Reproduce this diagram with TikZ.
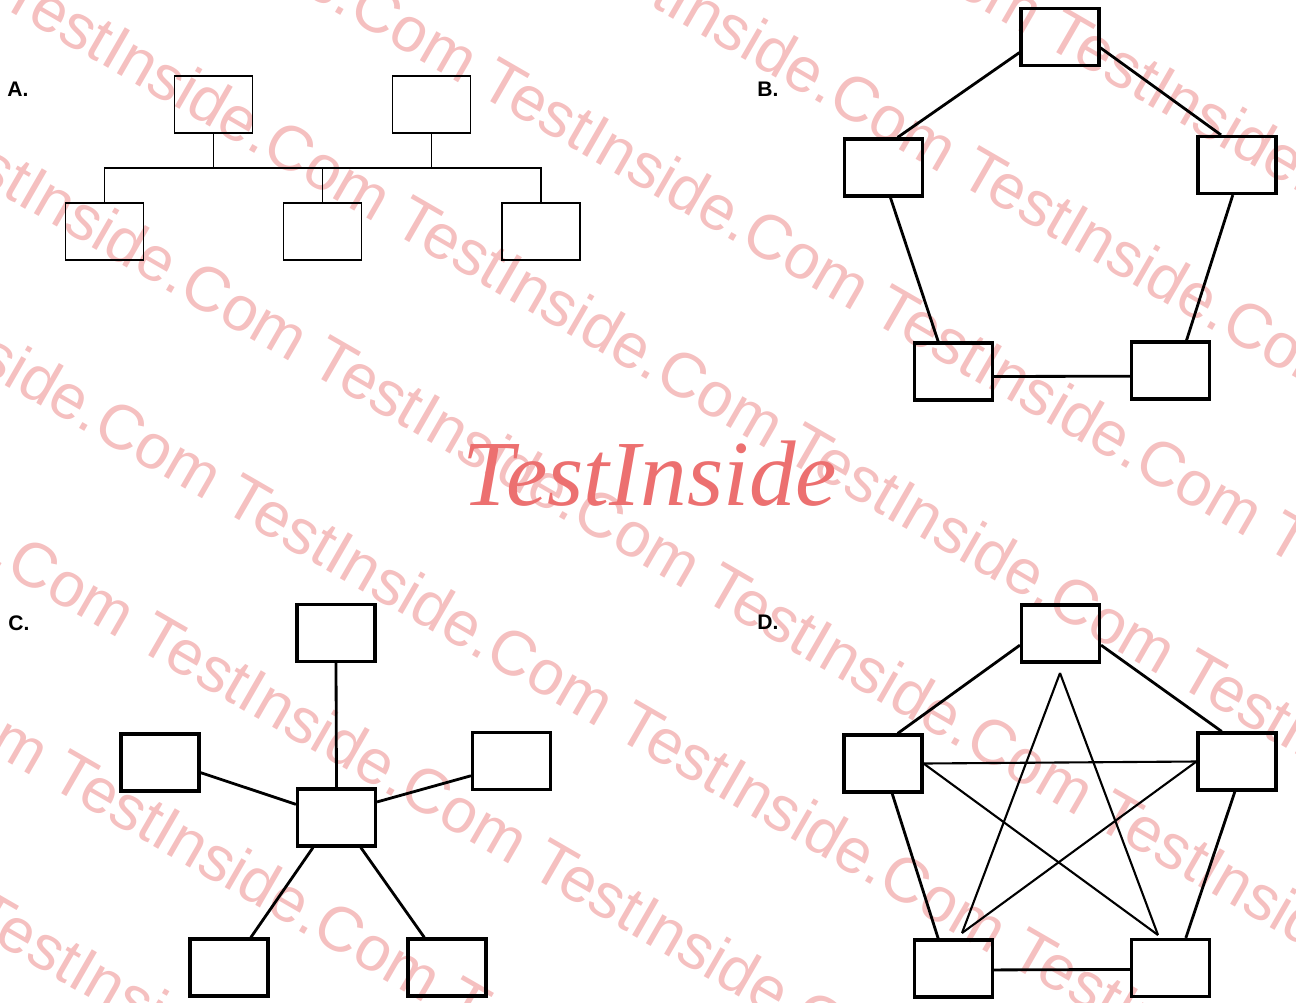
\documentclass[tikz,border=0pt]{standalone}
\usepackage{fontspec}
\setmainfont{Liberation Serif}
\setsansfont{Liberation Sans}
\definecolor{markColour}{RGB}{245,192,192}
\definecolor{titleColour}{RGB}{236,112,112}

\begin{document}
\begin{tikzpicture}[
        x=0.02cm, y=-0.02cm,
        hostnode/.style={rectangle, draw=black, line width=1.8pt, minimum width=1.56cm, minimum height=1.14cm, inner sep=0pt},
        busnode/.style={hostnode, line width=1.1pt},
        labelnode/.style={anchor=west, inner sep=0pt, font=\sffamily\bfseries\fontsize{12}{12}\selectfont},
        wmarknode/.style={anchor=west, inner sep=0pt, rotate=-30, text=markColour, font=\sffamily\fontsize{36}{36}\selectfont},
        busline/.style={line width=1.1pt},
        ringline/.style={line width=1.6pt},
        meshline/.style={line width=1.2pt},
    ]
    \useasboundingbox (0,0) rectangle (1296,1002);

    % watermark rows
    \begin{scope}
        \clip (0,0) rectangle (1296,1002);
        \foreach \k in {-3,...,5} {
            \pgfmathsetmacro{\s}{mod(19-100*\k+4580,458)-916}
            \node[wmarknode] (wm\k) at ({0.866*\s},{-20+188*\k+0.5*\s})
                {TestInside.Com TestInside.Com TestInside.Com TestInside.Com TestInside.Com TestInside.Com};
        }
    \end{scope}
    \node[font=\itshape\fontsize{53}{53}\selectfont, text=titleColour, anchor=base, inner sep=0pt] (title) at (650,505) {TestInside};

    % A. bus
    \node[labelnode] (labA) at (7,89) {A.};
    \node[busnode] (a1) at (213.5,104.5) {};
    \node[busnode] (a2) at (431.5,104.5) {};
    \node[busnode] (a3) at (104.5,231.5) {};
    \node[busnode] (a4) at (322.5,231.5) {};
    \node[busnode] (a5) at (541,231.5) {};
    \coordinate (bus) at (0,168);
    \draw[busline] (a3.north) |- (bus -| a5.north) -- (a5.north);
    \draw[busline] (a1.south) -- (a1.south |- bus);
    \draw[busline] (a2.south) -- (a2.south |- bus);
    \draw[busline] (a4.north) -- (a4.north |- bus);

    % B. ring
    \node[labelnode] (labB) at (757,89) {B.};
    \node[hostnode] (b1) at (1060,37) {};
    \node[hostnode] (b2) at (883.5,167.5) {};
    \node[hostnode] (b3) at (1237,165) {};
    \node[hostnode] (b4) at (953.5,371.5) {};
    \node[hostnode] (b5) at (1170.5,370.5) {};
    \begin{scope}[every edge/.style={draw, ringline}]
        \path (b1.201) edge (b2.65);
        \path (b1.345) edge (b3.118);
        \path (b2.283) edge (b4.117);
        \path (b3.262) edge (b5.62);
        \path (b4.353) edge (b5.188);
    \end{scope}

    % C. star
    \node[labelnode] (labC) at (8,623) {C.};
    \node[hostnode] (c0) at (336.5,817.5) {};
    \node[hostnode] (c1) at (336,633) {};
    \node[hostnode] (c2) at (160,762.5) {};
    \node[hostnode] (c3) at (511.5,761) {};
    \node[hostnode] (c4) at (229,967.5) {};
    \node[hostnode] (c5) at (447,967.5) {};
    \begin{scope}[every edge/.style={draw, ringline}]
        \path (c1.south) edge (c0.north);
        \path (c2.346) edge (c0.162);
        \path (c0.21) edge (c3.200);
        \path (c0.232) edge (c4.54);
        \path (c0.309) edge (c5.127);
    \end{scope}

    % D. mesh
    \node[labelnode] (labD) at (757,622) {D.};
    \node[hostnode] (d1) at (1060.5,633.5) {};
    \node[hostnode] (d2) at (883,763.5) {};
    \node[hostnode] (d3) at (1237,761.5) {};
    \node[hostnode] (d4) at (953.5,968.5) {};
    \node[hostnode] (d5) at (1170.5,968) {};
    \coordinate (sTop) at (1060,673);
    \coordinate (sLeft) at (962,933);
    \coordinate (sRight) at (1158,935);
    \begin{scope}[every edge/.style={draw, ringline}]
        \path (d1.196) edge (d2.64);
        \path (d1.344) edge (d3.117);
        \path (d2.287) edge (d4.117);
        \path (d3.266) edge (d5.63);
        \path (d4.358) edge (d5.182);
    \end{scope}
    \begin{scope}[every edge/.style={draw, meshline}]
        \path (sTop) edge (sLeft);
        \path (sTop) edge (sRight);
        \path (d2.east) edge (d3.west);
        \path (d2.east) edge (sRight);
        \path (d3.west) edge (sLeft);
    \end{scope}
\end{tikzpicture}
\end{document}
